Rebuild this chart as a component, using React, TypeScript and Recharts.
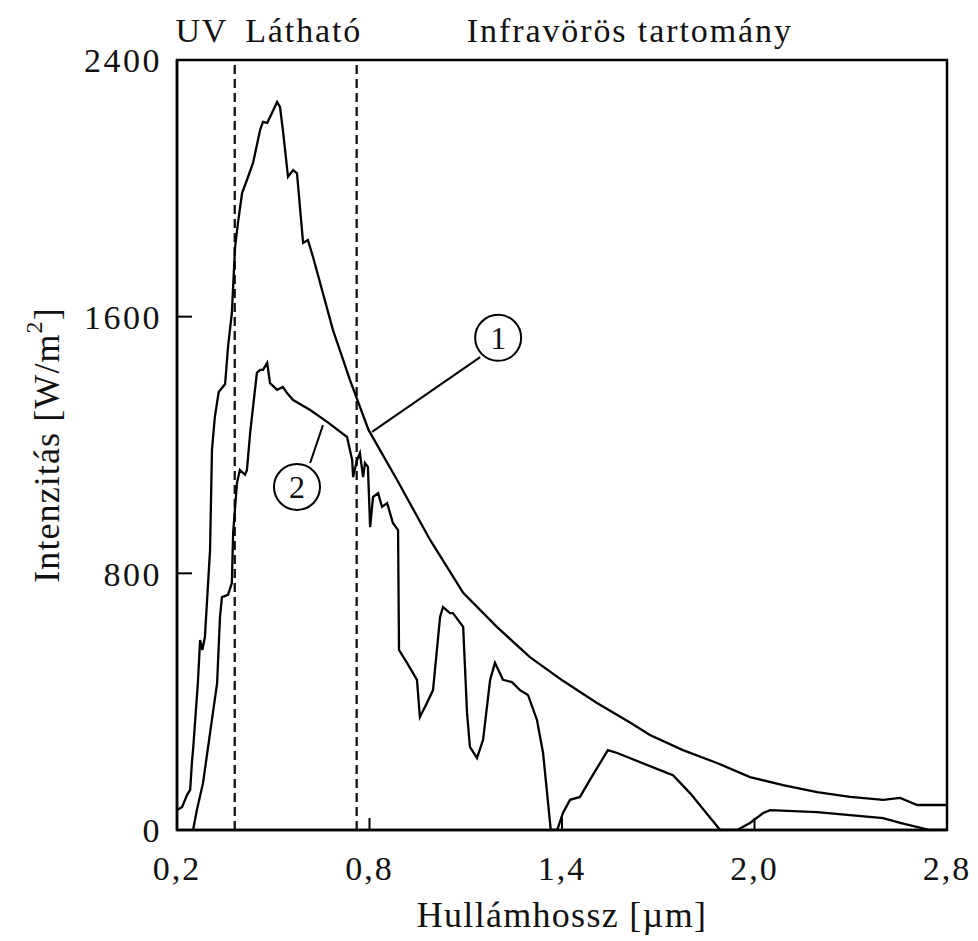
import React from 'react';
import { LineChart, Line, XAxis, YAxis, ReferenceLine, ReferenceArea, ReferenceDot } from 'recharts';

// Curve 1: extraterrestrial solar spectrum (wavelength µm, intensity W/m²)
const curve1Wavelength = [
  0.2, 0.216, 0.231, 0.241, 0.247, 0.25, 0.265, 0.272, 0.279, 0.287, 0.303, 0.309, 0.318, 0.33, 0.35,
  0.359, 0.371, 0.381, 0.39, 0.403, 0.418, 0.437, 0.459, 0.468, 0.481, 0.496, 0.512, 0.521, 0.53,
  0.546, 0.562, 0.574, 0.593, 0.608, 0.624, 0.686, 0.739, 0.797, 0.886, 0.989, 1.092, 1.197, 1.3,
  1.403, 1.509, 1.612, 1.674, 1.777, 1.883, 1.986, 2.089, 2.195, 2.298, 2.401, 2.454, 2.507, 2.6,
];
const curve1Intensity = [
  62, 72, 109, 125, 218, 249, 458, 592, 561, 602, 873, 1185, 1288, 1365, 1390,
  1506, 1612, 1817, 1892, 1986, 2026, 2079, 2182, 2207, 2204, 2235, 2269, 2254, 2182,
  2036, 2057, 2047, 1830, 1839, 1786, 1559, 1403, 1247, 1091, 904, 739, 633, 539,
  465, 396, 335, 296, 249, 209, 165, 140, 118, 103, 94, 100, 78, 78,
];

// Curve 2: spectrum at ground level
const curve2Wavelength = [
  0.25, 0.262, 0.281, 0.303, 0.325, 0.334, 0.34, 0.359, 0.371, 0.375, 0.387, 0.396, 0.412, 0.418,
  0.428, 0.449, 0.459, 0.468, 0.481, 0.49, 0.512, 0.53, 0.543, 0.562, 0.615, 0.668, 0.73, 0.746,
  0.749, 0.761, 0.77, 0.78, 0.786, 0.795, 0.802, 0.811, 0.827, 0.839, 0.855, 0.873, 0.889, 0.892,
  0.917, 0.948, 0.957, 0.979, 0.998, 1.02, 1.029, 1.051, 1.06, 1.092, 1.104, 1.113, 1.135, 1.154,
  1.176, 1.191, 1.216, 1.244, 1.269, 1.294, 1.322, 1.341, 1.365, 1.385, 1.403, 1.425, 1.456, 1.487,
  1.543, 1.572, 1.727, 1.746, 1.799, 1.893, 1.946, 1.986, 2.027, 2.049, 2.195, 2.401, 2.454, 2.547, 2.6,
];
const curve2Intensity = [
  0, 62, 146, 302, 458, 664, 726, 733, 770, 926, 1082, 1122, 1107, 1122,
  1238, 1425, 1434, 1434, 1456, 1393, 1372, 1381, 1362, 1340, 1309, 1272, 1225, 1153,
  1100, 1153, 1175, 1100, 1144, 1132, 944, 1038, 1050, 1007, 1019, 957, 935, 561,
  521, 468, 352, 396, 436, 664, 695, 676, 676, 633, 365, 259, 224, 281,
  468, 521, 468, 461, 436, 421, 343, 240, 0, 0, 53, 94, 103, 156,
  249, 240, 178, 171, 115, 0, 0, 22, 53, 62, 56, 37, 22, 0, 0,
];

const xTicks = [0.2, 0.8, 1.4, 2.0, 2.6];
const xTickLabels = ['0,2', '0,8', '1,4', '2,0', '2,8'];
const yTicks = [0, 800, 1600, 2400];
const yTickLabels = ['0', '800', '1600', '2400'];

const boundaries = [0.38, 0.76];
const regionNames = ['UV', 'Látható', 'Infravörös tartomány'];
const regionFrom = [0.2, 0.38, 0.76];
const regionTo = [0.38, 0.76, 2.6];
const regionLabelShift = [-4, 8, -22];

const calloutNames = ['1', '2'];
const calloutCenterX = [1.201, 0.574];
const calloutCenterY = [1534, 1069];
const calloutFromX = [1.145, 0.615];
const calloutFromY = [1474, 1144];
const calloutToX = [0.808, 0.655];
const calloutToY = [1241, 1262];

const xTitle = 'Hullámhossz [µm]';

const FONT = '"Liberation Serif", "Times New Roman", serif';
const INK = '#111';

const data1 = curve1Wavelength.map((x, i) => ({ x, y: curve1Intensity[i] }));
const data2 = curve2Wavelength.map((x, i) => ({ x, y: curve2Intensity[i] }));

const X_MARGIN = 26;
const Y_MARGIN = 15;

const nearestIndex = (arr: number[], v: number) => {
  let best = 0;
  arr.forEach((a, i) => {
    if (Math.abs(a - v) < Math.abs(arr[best] - v)) best = i;
  });
  return best;
};

const XTick = (props: any) => {
  const { x, y, payload } = props;
  const axisY = y - X_MARGIN;
  const label = xTickLabels[nearestIndex(xTicks, payload.value)];
  return (
    <g>
      <line x1={x} x2={x} y1={axisY} y2={axisY - 12} stroke="#000" strokeWidth={2} />
      <text x={x} y={y} dy="0.72em" textAnchor="middle" fontFamily={FONT} fontSize={34} letterSpacing={2} fill={INK}>
        {label}
      </text>
    </g>
  );
};

const YTick = (props: any) => {
  const { x, y, payload } = props;
  const axisX = x + Y_MARGIN;
  const label = yTickLabels[nearestIndex(yTicks, payload.value)];
  return (
    <g>
      <line x1={axisX} x2={axisX + 15} y1={y} y2={y} stroke="#000" strokeWidth={2} />
      <text x={x} y={y} dy="0.36em" textAnchor="end" fontFamily={FONT} fontSize={34} letterSpacing={2.5} fill={INK}>
        {label}
      </text>
    </g>
  );
};

const XTitle = (props: any) => {
  const { viewBox } = props;
  return (
    <text
      x={viewBox.x + viewBox.width / 2}
      y={viewBox.y + 97}
      textAnchor="middle"
      fontFamily={FONT}
      fontSize={36}
      letterSpacing={1.3}
      fill={INK}
    >
      {xTitle}
    </text>
  );
};

const YTitle = (props: any) => {
  const { viewBox } = props;
  const cx = viewBox.x - 50;
  const cy = viewBox.y + viewBox.height / 2;
  return (
    <text
      x={cx}
      y={cy}
      transform={`rotate(-90, ${cx}, ${cy})`}
      textAnchor="middle"
      dominantBaseline="central"
      fontFamily={FONT}
      fontSize={36}
      letterSpacing={1.1}
      fill={INK}
    >
      <tspan>Intenzitás [W/m</tspan>
      <tspan fontSize={24} dy={-13}>2</tspan>
      <tspan dy={13}>]</tspan>
    </text>
  );
};

const makeRegionLabel = (i: number) => (props: any) => {
  const { viewBox } = props;
  return (
    <text
      x={viewBox.x + viewBox.width / 2 + regionLabelShift[i]}
      y={viewBox.y - 18}
      textAnchor="middle"
      fontFamily={FONT}
      fontSize={34}
      letterSpacing={1.9}
      fill={INK}
    >
      {regionNames[i]}
    </text>
  );
};

export default function App() {
  return (
    <LineChart
      width={962}
      height={933}
      margin={{ top: 52, right: 23, bottom: 51, left: 89 }}
      style={{ background: '#fff' }}
    >
      <XAxis
        dataKey="x"
        type="number"
        domain={[0.2, 2.6]}
        ticks={xTicks}
        interval={0}
        allowDataOverflow
        height={60}
        tickSize={0}
        tickMargin={X_MARGIN}
        tick={<XTick />}
        axisLine={{ stroke: '#000', strokeWidth: 2.5 }}
        label={<XTitle />}
      />
      <YAxis
        dataKey="y"
        type="number"
        domain={[0, 2400]}
        ticks={yTicks}
        interval={0}
        allowDataOverflow
        width={80}
        tickSize={0}
        tickMargin={Y_MARGIN}
        tick={<YTick />}
        axisLine={{ stroke: '#000', strokeWidth: 2.5 }}
        label={<YTitle />}
      />
      {regionNames.map((n, i) => (
        <ReferenceArea
          key={n}
          x1={regionFrom[i]}
          x2={regionTo[i]}
          y1={0}
          y2={2400}
          fill="none"
          fillOpacity={0}
          stroke="none"
          label={makeRegionLabel(i)}
        />
      ))}
      <ReferenceArea x1={0.2} x2={2.6} y1={0} y2={2400} fill="none" fillOpacity={0} stroke="#000" strokeWidth={2.5} />
      {boundaries.map((b) => (
        <ReferenceLine key={b} x={b} stroke="#111" strokeWidth={2.3} strokeDasharray="9 5" />
      ))}
      <Line data={data1} dataKey="y" type="linear" stroke="#000" strokeWidth={2.3} dot={false} isAnimationActive={false} />
      <Line data={data2} dataKey="y" type="linear" stroke="#000" strokeWidth={2.3} dot={false} isAnimationActive={false} />
      {calloutNames.map((n, i) => (
        <ReferenceLine
          key={'seg' + n}
          segment={[
            { x: calloutFromX[i], y: calloutFromY[i] },
            { x: calloutToX[i], y: calloutToY[i] },
          ]}
          stroke="#000"
          strokeWidth={2}
        />
      ))}
      {calloutNames.map((n, i) => (
        <ReferenceDot
          key={'dot' + n}
          x={calloutCenterX[i]}
          y={calloutCenterY[i]}
          r={23}
          fill="#fff"
          stroke="#000"
          strokeWidth={2}
          label={{ value: n, position: 'center', fontFamily: FONT, fontSize: 32, fill: INK }}
        />
      ))}
    </LineChart>
  );
}
